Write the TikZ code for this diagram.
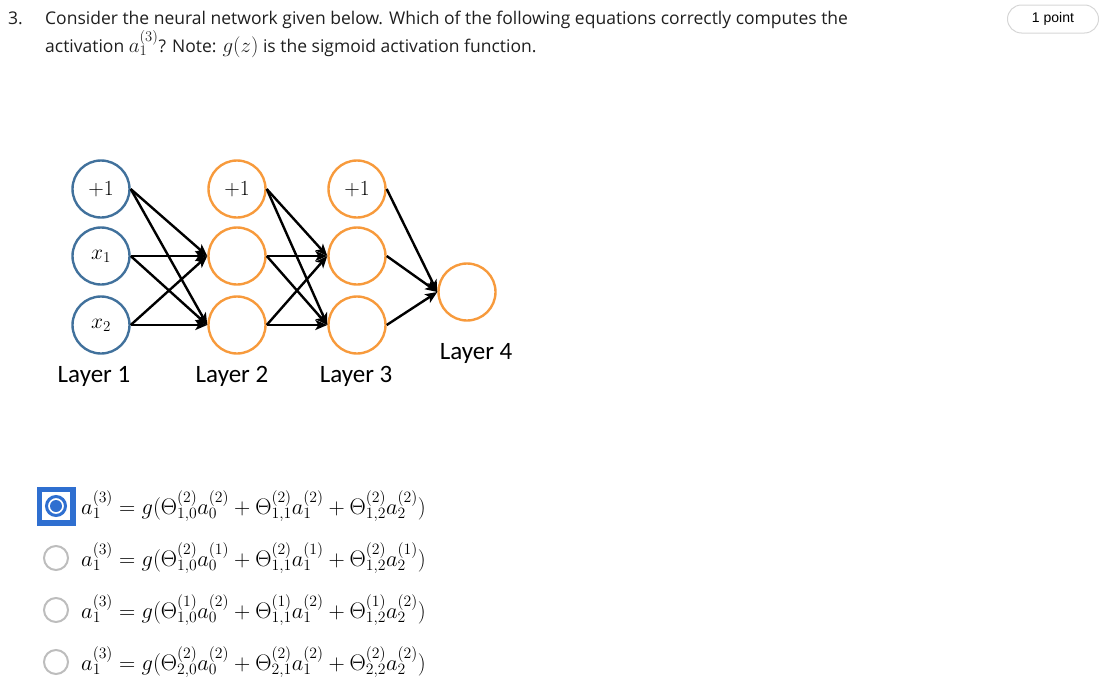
\RequirePackage{fix-cm}
\documentclass[tikz,border=0pt]{standalone}
\usepackage[no-math]{fontspec}
\setmainfont{Open Sans}
\newfontfamily\layerfont{Carlito}
\newfontfamily\pillfont{Liberation Sans}
\usetikzlibrary{arrows.meta}
\definecolor{inblue}{HTML}{41719C}
\definecolor{hidorange}{HTML}{F79A3C}
\definecolor{radioblue}{HTML}{2F6FD0}
\definecolor{radiogray}{HTML}{BDBDBD}
\definecolor{pillgray}{HTML}{D6D6D6}
\definecolor{textgray}{HTML}{1F1F1F}
\newcommand{\bigmath}[1]{{\fontsize{21}{21}\selectfont$#1$}}

\begin{document}
\begin{tikzpicture}[x=1pt, y=-1pt]
  \useasboundingbox (0,0) rectangle (1105,696);
  \tikzstyle{unit} = [draw, circle, minimum size=57pt, inner sep=0pt, line width=2.4pt, font=\fontsize{21.5}{25}\selectfont]
  \tikzstyle{inunit} = [unit, draw=inblue]
  \tikzstyle{hidunit} = [unit, draw=hidorange]
  \tikzstyle{layer} = [anchor=base, font=\layerfont\fontsize{25}{29}\selectfont]
  \tikzstyle{wire} = [-{Stealth[length=12pt, width=10pt, inset=3pt]}, line width=2.4pt]
  \tikzstyle{radio} = [draw=radiogray, circle, line width=2pt, minimum size=24pt, inner sep=0pt]
  \tikzstyle{eqn} = [anchor=base west, inner sep=0pt, font=\fontsize{22.5}{27}\selectfont]
  \tikzstyle{question} = [anchor=base west, inner sep=0pt, text=textgray, font=\fontsize{17.5}{21}\selectfont]

  % question text
  \node[question] (num) at (8, 24) {3.};
  \node[question] (line1) at (45, 24) {Consider the neural network given below. Which of the following equations correctly computes the};
  \node[question] (line2) at (45, 52) {activation \bigmath{a_1^{(3)}}? Note: \bigmath{g(z)} is the sigmoid activation function.};
  \node[draw=pillgray, line width=1pt, rounded corners=14pt, minimum width=91pt, minimum height=28pt,
        font=\pillfont\fontsize{14}{16}\selectfont] (pts) at (1053, 19) {1 point};

  % network
  \node[inunit] (a0) at (101, 189) {$+1$};
  \node[inunit] (a1) at (101, 256) {$x_1$};
  \node[inunit] (a2) at (101, 325) {$x_2$};
  \node[hidunit] (b0) at (237, 189) {$+1$};
  \node[hidunit] (b1) at (237, 256) {};
  \node[hidunit] (b2) at (237, 325) {};
  \node[hidunit] (c0) at (357, 189) {$+1$};
  \node[hidunit] (c1) at (357, 256) {};
  \node[hidunit] (c2) at (357, 325) {};
  \node[hidunit] (d1) at (467, 292) {};

  \foreach \s in {a0, a1, a2} {
    \draw[wire] (\s.east) -- (b1.west);
    \draw[wire] (\s.east) -- (b2.west);
  }
  \foreach \s in {b0, b1, b2} {
    \draw[wire] (\s.east) -- (c1.west);
    \draw[wire] (\s.east) -- (c2.west);
  }
  \foreach \s in {c0, c1, c2}
    \draw[wire] (\s.east) -- (d1.west);

  \node[layer] (l1) at (94, 382) {Layer 1};
  \node[layer] (l2) at (232, 382) {Layer 2};
  \node[layer] (l3) at (356, 382) {Layer 3};
  \node[layer] (l4) at (476, 359) {Layer 4};

  % answers
  \node[fill=radioblue, minimum size=39pt, inner sep=0pt] (sel) at (56, 506) {};
  \node[fill=white, minimum size=28pt, inner sep=0pt] (selin) at (sel) {};
  \node[draw=radioblue, circle, line width=3pt, minimum size=19pt, inner sep=0pt] (selring) at (sel) {};
  \node[fill=radioblue, circle, minimum size=12pt, inner sep=0pt] (seldot) at (sel) {};
  \node[radio] (r2) at (56, 558) {};
  \node[radio] (r3) at (56, 610) {};
  \node[radio] (r4) at (56, 662) {};

  \node[eqn] (e1) at (81, 514) {$a_1^{(3)} = g(\Theta^{(2)}_{1,0}a^{(2)}_0 + \Theta^{(2)}_{1,1}a^{(2)}_1 + \Theta^{(2)}_{1,2}a^{(2)}_2)$};
  \node[eqn] (e2) at (81, 566) {$a_1^{(3)} = g(\Theta^{(2)}_{1,0}a^{(1)}_0 + \Theta^{(2)}_{1,1}a^{(1)}_1 + \Theta^{(2)}_{1,2}a^{(1)}_2)$};
  \node[eqn] (e3) at (81, 618) {$a_1^{(3)} = g(\Theta^{(1)}_{1,0}a^{(2)}_0 + \Theta^{(1)}_{1,1}a^{(2)}_1 + \Theta^{(1)}_{1,2}a^{(2)}_2)$};
  \node[eqn] (e4) at (81, 670) {$a_1^{(3)} = g(\Theta^{(2)}_{2,0}a^{(2)}_0 + \Theta^{(2)}_{2,1}a^{(2)}_1 + \Theta^{(2)}_{2,2}a^{(2)}_2)$};
\end{tikzpicture}
\end{document}
